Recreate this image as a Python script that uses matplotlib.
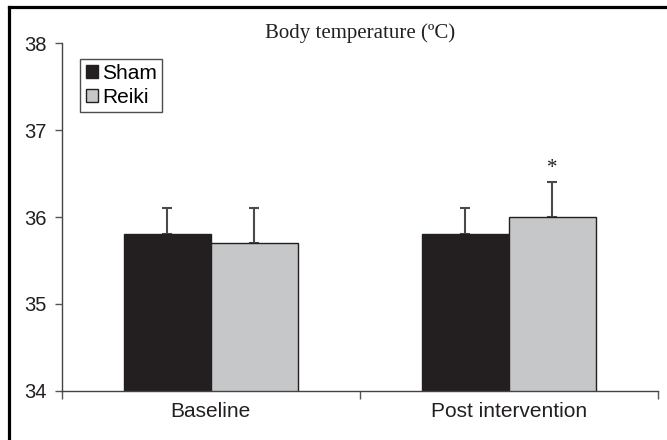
import matplotlib
matplotlib.use("Agg")
import matplotlib.pyplot as plt
from matplotlib.lines import Line2D
import numpy as np

categories = ["Baseline", "Post intervention"]
series_names = ["Sham", "Reiki"]
sham = [35.8, 35.8]
sham_err = [0.3, 0.3]
reiki = [35.7, 36.0]
reiki_err = [0.4, 0.4]
yticks = [34, 35, 36, 37, 38]
title = "Body temperature (ºC)"
star_label = "*"

DARK = "#231f20"
LIGHT = "#c6c7c9"
ERR = "#4a4a4a"

plt.rcParams['font.family'] = ['Liberation Sans', 'DejaVu Sans']

fig = plt.figure(figsize=(6.67, 4.4), dpi=100)
ax = fig.add_axes([0.0925, 0.112, 0.894, 0.7895])

x = np.arange(len(categories))
w = 0.292
ax.bar(x - w / 2, sham, w, color=DARK, edgecolor=DARK, linewidth=1.0,
       label=series_names[0], zorder=2)
ax.bar(x + w / 2, reiki, w, color=LIGHT, edgecolor=DARK, linewidth=1.0,
       label=series_names[1], zorder=2)
ax.errorbar(x - w / 2, sham, yerr=[np.zeros(len(sham)), sham_err], fmt='none',
            ecolor=ERR, elinewidth=1.5, capsize=3.6, capthick=1.5, zorder=1)
ax.errorbar(x + w / 2, reiki, yerr=[np.zeros(len(reiki)), reiki_err], fmt='none',
            ecolor=ERR, elinewidth=1.5, capsize=3.6, capthick=1.5, zorder=1)

# significance star above Reiki post intervention
ax.text(x[1] + w / 2, reiki[1] + reiki_err[1] + 0.05, star_label, ha='center', va='bottom',
        fontsize=15, color=DARK, family=['Liberation Serif'])

ax.set_ylim(yticks[0], yticks[-1])
ax.set_yticks(yticks)
ax.set_yticklabels([str(t) for t in yticks], fontsize=14.5, color=DARK)
ax.set_xlim(-0.5, len(categories) - 0.5)
ax.set_xticks(np.arange(len(categories) + 1) - 0.5)
ax.set_xticklabels([])
ax.set_xticks(x, minor=True)
ax.set_xticklabels(categories, minor=True, fontsize=15, color=DARK)
ax.tick_params(axis='x', which='major', direction='out', length=6, width=1.0, color="#555555")
ax.tick_params(axis='x', which='minor', length=0, pad=8)
ax.tick_params(axis='y', direction='out', length=5, width=1.0, color="#555555", pad=6)

for s in ['top', 'right']:
    ax.spines[s].set_visible(False)
for s in ['left', 'bottom']:
    ax.spines[s].set_color("#444444")
    ax.spines[s].set_linewidth(1.0)

leg = ax.legend(loc='upper left', bbox_to_anchor=(0.0315, 0.955), fontsize=15,
                frameon=True, fancybox=False, handlelength=0.6, handleheight=0.6,
                handletextpad=0.2, borderpad=0.25, labelspacing=0.22, borderaxespad=0)
leg.get_frame().set_edgecolor(DARK)
leg.get_frame().set_linewidth(1.0)
for h in leg.legend_handles:
    h.set_edgecolor(DARK)

fig.text(0.5398, 1 - 33 / 440, title, ha='center', va='center', fontsize=15,
         family=['Liberation Serif'], color=DARK)

# cropped frame lines (top and left)
fig.add_artist(Line2D([9 / 667, 1], [1 - 7 / 440, 1 - 7 / 440], transform=fig.transFigure,
                      color='black', linewidth=2.3))
fig.add_artist(Line2D([9 / 667, 9 / 667], [0, 1 - 7 / 440], transform=fig.transFigure,
                      color='black', linewidth=2.3))

fig.savefig("out.png", dpi=100)
